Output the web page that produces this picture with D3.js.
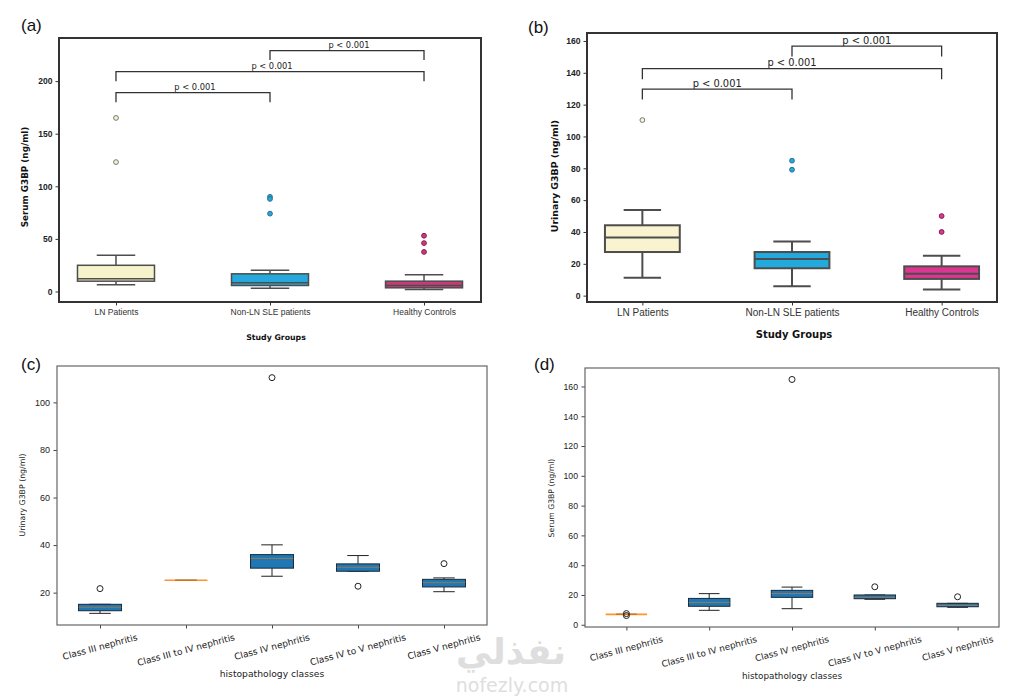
<!DOCTYPE html>
<html>
<head>
<meta charset="utf-8">
<script src="https://cdn.jsdelivr.net/npm/d3@7"></script>
<style>
  body { margin: 0; background: #fff; }
  svg { font-family: "DejaVu Sans", sans-serif; display: block; }
</style>
</head>
<body>
<div id="chart"></div>
<script>
// ---------- data ----------
const studyGroups = ['LN Patients', 'Non-LN SLE patients', 'Healthy Controls'];

// each box: [lower whisker, q1, median, q3, upper whisker]
const serumGroupBoxes = [
    [6.3, 9.8, 12.0, 24.9, 34.4],
    [3.1, 5.7, 8.2, 16.8, 20.2],
    [1.9, 3.5, 5.7, 9.8, 15.8]
];
const serumGroupOutliers = [[165, 123], [90, 88, 74], [53, 46, 37.6]];

const urinaryGroupBoxes = [
    [11.3, 27.4, 36.6, 44.2, 53.8],
    [5.9, 17.2, 23.0, 27.4, 34.0],
    [3.8, 10.5, 13.8, 18.4, 25.1]
];
const urinaryGroupOutliers = [[110.3], [84.8, 79.1], [50, 40]];

const comparisonPairs = [[0, 1], [0, 2], [1, 2]];
const serumBracketLevels = [189, 209, 229];
const urinaryBracketLevels = [129.8, 142.6, 156.8];
const pValueLabels = ['p < 0.001', 'p < 0.001', 'p < 0.001'];

const histoClasses = ['Class III nephritis', 'Class III to IV nephritis', 'Class IV nephritis',
    'Class IV to V nephritis', 'Class V nephritis'];

const urinaryClassBoxes = [
    [11.3, 12.4, 13.9, 15.1, 15.1],
    [25.2, 25.2, 25.2, 25.2, 25.2],
    [26.9, 30.3, 34.4, 36.0, 40.1],
    [29.0, 29.0, 30.7, 32.1, 35.6],
    [20.4, 22.4, 24.2, 25.6, 26.2]
];
const urinaryClassOutliers = [[21.7], [], [110.4], [22.7], [32.2]];

const serumClassBoxes = [
    [7.0, 7.0, 7.0, 7.0, 7.0],
    [9.7, 12.4, 15.0, 17.7, 20.9],
    [10.8, 18.4, 21.0, 23.1, 25.3],
    [17.1, 17.5, 18.5, 20.0, 20.0],
    [11.7, 12.1, 13.0, 14.4, 14.4]
];
const serumClassOutliers = [[6.2, 7.5], [], [164.7], [25.5], [18.8]];

const serumGroupTicks = [0, 50, 100, 150, 200];
const urinaryGroupTicks = [0, 20, 40, 60, 80, 100, 120, 140, 160];
const urinaryClassTicks = [20, 40, 60, 80, 100];
const serumClassTicks = [0, 20, 40, 60, 80, 100, 120, 140, 160];

// ---------- drawing ----------
const svg = d3.select('#chart').append('svg')
    .attr('width', 1023)
    .attr('height', 697);

function styleAxis(axisG, cfg, bold) {
    axisG.select('.domain').remove();
    axisG.selectAll('.tick line').attr('stroke', cfg.tickColor).attr('stroke-width', 1);
    axisG.selectAll('.tick text')
        .attr('fill', '#222')
        .style('font-weight', bold ? 'bold' : 'normal');
}

function drawGroupPanel(cfg) {
    let vis = {};
    vis.g = svg.append('g');
    vis.x = d3.scaleLinear().domain([-0.37, 2.37]).range([cfg.left, cfg.right]);
    vis.y = d3.scaleLinear().domain(cfg.yDomain).range([cfg.bottom, cfg.top]);
    const half = vis.x(0.25) - vis.x(0);

    // y axis
    const yAxisG = vis.g.append('g')
        .attr('transform', `translate(${cfg.left},0)`)
        .call(d3.axisLeft(vis.y).tickValues(cfg.ticks).tickSize(3.5).tickPadding(3))
        .style('font-size', cfg.yTickSize + 'px');
    styleAxis(yAxisG, cfg, true);

    // x axis
    const xAxisG = vis.g.append('g')
        .attr('transform', `translate(0,${cfg.bottom})`)
        .call(d3.axisBottom(vis.x).tickValues([0, 1, 2]).tickFormat(i => studyGroups[i])
            .tickSize(3.5).tickPadding(3.5))
        .style('font-size', cfg.xTickSize + 'px');
    styleAxis(xAxisG, cfg, false);
    xAxisG.selectAll('.tick text').attr('fill', '#333');

    // boxes
    cfg.boxes.forEach((b, i) => {
        const cx = vis.x(i);
        const [lo, q1, med, q3, hi] = b;
        const line = (x1, y1, x2, y2) => vis.g.append('line')
            .attr('x1', x1).attr('y1', y1).attr('x2', x2).attr('y2', y2)
            .attr('stroke', cfg.lineColor).attr('stroke-width', cfg.lineWidth);
        line(cx, vis.y(lo), cx, vis.y(q1));
        line(cx, vis.y(q3), cx, vis.y(hi));
        vis.g.append('rect')
            .attr('x', cx - half).attr('width', half * 2)
            .attr('y', vis.y(q3)).attr('height', vis.y(q1) - vis.y(q3))
            .attr('fill', cfg.fills[i])
            .attr('stroke', cfg.lineColor).attr('stroke-width', cfg.lineWidth);
        line(cx - half, vis.y(med), cx + half, vis.y(med));
        line(cx - half / 2, vis.y(lo), cx + half / 2, vis.y(lo));
        line(cx - half / 2, vis.y(hi), cx + half / 2, vis.y(hi));

        vis.g.selectAll(null)
            .data(cfg.outliers[i])
            .join('circle')
            .attr('cx', cx)
            .attr('cy', d => vis.y(d))
            .attr('r', 2.4)
            .attr('fill', cfg.fills[i])
            .attr('stroke', cfg.flierStroke[i])
            .attr('stroke-width', 1);
    });

    // significance brackets
    comparisonPairs.forEach((p, k) => {
        const lvl = cfg.brackets[k];
        const x1 = vis.x(p[0]), x2 = vis.x(p[1]);
        vis.g.append('path')
            .attr('d', `M${x1},${vis.y(lvl) + cfg.legPx}V${vis.y(lvl)}H${x2}V${vis.y(lvl) + cfg.legPx}`)
            .attr('fill', 'none')
            .attr('stroke', '#333')
            .attr('stroke-width', 1.3);
        vis.g.append('text')
            .attr('x', (x1 + x2) / 2 + cfg.pShift)
            .attr('y', vis.y(lvl) - 2.5)
            .attr('text-anchor', 'middle')
            .style('font-size', cfg.pSize + 'px')
            .attr('fill', '#222')
            .text(pValueLabels[k]);
    });

    // frame
    vis.g.append('rect')
        .attr('x', cfg.left).attr('y', cfg.top)
        .attr('width', cfg.right - cfg.left).attr('height', cfg.bottom - cfg.top)
        .attr('fill', 'none').attr('stroke', '#333').attr('stroke-width', 2);

    // axis titles
    vis.g.append('text')
        .attr('transform', `translate(${cfg.yLabelX},${cfg.yLabelY}) rotate(-90)`)
        .attr('text-anchor', 'middle')
        .attr('dominant-baseline', 'central')
        .style('font-size', cfg.yLabelSize + 'px')
        .style('font-weight', 'bold')
        .attr('fill', '#111')
        .text(cfg.yLabel);
    vis.g.append('text')
        .attr('x', cfg.xLabelX).attr('y', cfg.xLabelY)
        .attr('text-anchor', 'middle')
        .style('font-size', cfg.xLabelSize + 'px')
        .style('font-weight', 'bold')
        .attr('fill', '#111')
        .text('Study Groups');
}

function drawClassPanel(cfg) {
    let vis = {};
    vis.g = svg.append('g');
    vis.x = d3.scaleLinear().domain([-0.5, 4.5]).range([cfg.left, cfg.right]);
    vis.y = d3.scaleLinear().domain(cfg.yDomain).range([cfg.bottom, cfg.top]);
    const half = vis.x(0.25) - vis.x(0);

    const yAxisG = vis.g.append('g')
        .attr('transform', `translate(${cfg.left},0)`)
        .call(d3.axisLeft(vis.y).tickValues(cfg.ticks).tickSize(3.5).tickPadding(3.5))
        .style('font-size', cfg.yTickSize + 'px');
    styleAxis(yAxisG, cfg, false);

    const xAxisG = vis.g.append('g')
        .attr('transform', `translate(0,${cfg.bottom})`)
        .call(d3.axisBottom(vis.x).tickValues([0, 1, 2, 3, 4]).tickFormat('').tickSize(3.5));
    styleAxis(xAxisG, cfg, false);

    // rotated tick labels (matplotlib rotation=15, centred under tick)
    const ang = 15 * Math.PI / 180;
    histoClasses.forEach((name, i) => {
        const t = vis.g.append('text')
            .attr('text-anchor', 'middle')
            .attr('dominant-baseline', 'central')
            .style('font-size', cfg.xTickSize + 'px')
            .attr('fill', '#222')
            .text(name);
        const w = t.node().getComputedTextLength();
        const h = cfg.xTickSize * 1.17;
        const cx = vis.x(i);
        const cy = cfg.bottom + 7 + (w * Math.sin(ang) + h * Math.cos(ang)) / 2;
        t.attr('transform', `translate(${cx},${cy}) rotate(-15)`);
    });

    cfg.boxes.forEach((b, i) => {
        const cx = vis.x(i);
        const [lo, q1, med, q3, hi] = b;
        const line = (x1, y1, x2, y2) => vis.g.append('line')
            .attr('x1', x1).attr('y1', y1).attr('x2', x2).attr('y2', y2)
            .attr('stroke', '#222').attr('stroke-width', 1);
        line(cx, vis.y(lo), cx, vis.y(q1));
        line(cx, vis.y(q3), cx, vis.y(hi));
        line(cx - half / 2, vis.y(lo), cx + half / 2, vis.y(lo));
        line(cx - half / 2, vis.y(hi), cx + half / 2, vis.y(hi));
        vis.g.append('rect')
            .attr('x', cx - half).attr('width', half * 2)
            .attr('y', vis.y(q3)).attr('height', vis.y(q1) - vis.y(q3))
            .attr('fill', '#1f77b4')
            .attr('stroke', '#1b2a38').attr('stroke-width', 1);
        const flat = q1 === q3;
        vis.g.append('line')
            .attr('x1', cx - half).attr('x2', cx + half)
            .attr('y1', vis.y(med)).attr('y2', vis.y(med))
            .attr('stroke', '#ff7f0e')
            .attr('stroke-width', flat ? 1.6 : 1)
            .attr('opacity', flat ? 0.85 : 0.5);

        vis.g.selectAll(null)
            .data(cfg.outliers[i])
            .join('circle')
            .attr('cx', cx)
            .attr('cy', d => vis.y(d))
            .attr('r', 3)
            .attr('fill', 'none')
            .attr('stroke', '#222')
            .attr('stroke-width', 1);
    });

    vis.g.append('rect')
        .attr('x', cfg.left).attr('y', cfg.top)
        .attr('width', cfg.right - cfg.left).attr('height', cfg.bottom - cfg.top)
        .attr('fill', 'none').attr('stroke', '#666').attr('stroke-width', 1.2);

    vis.g.append('text')
        .attr('transform', `translate(${cfg.yLabelX},${cfg.yLabelY}) rotate(-90)`)
        .attr('text-anchor', 'middle')
        .attr('dominant-baseline', 'central')
        .style('font-size', cfg.yLabelSize + 'px')
        .attr('fill', '#222')
        .text(cfg.yLabel);
    vis.g.append('text')
        .attr('x', cfg.xLabelX).attr('y', cfg.xLabelY)
        .attr('text-anchor', 'middle')
        .style('font-size', cfg.xLabelSize + 'px')
        .attr('fill', '#222')
        .text('histopathology classes');
}

// watermark (drawn first so it sits behind the panels)
const wm = svg.append('g').attr('fill', '#dedede');
wm.append('text').attr('x', 511).attr('y', 664).attr('text-anchor', 'middle')
    .style('font-size', '36px').style('font-weight', 'bold').text('نفذلي');
wm.append('text').attr('x', 512).attr('y', 692).attr('text-anchor', 'middle')
    .style('font-size', '19px').text('nofezly.com');

drawGroupPanel({
    left: 59, right: 481, top: 38, bottom: 302,
    yDomain: [-10, 241], ticks: serumGroupTicks,
    boxes: serumGroupBoxes, outliers: serumGroupOutliers,
    fills: ['#f6f3cc', '#26a8da', '#c73b7a'],
    flierStroke: ['#777', '#2a6f92', '#8a1e4f'],
    lineColor: '#4d4d4d', lineWidth: 1.5, tickColor: '#333',
    brackets: serumBracketLevels, legPx: 9.5, pShift: 2, pSize: 8.3,
    yTickSize: 8.5, xTickSize: 8.5,
    yLabel: 'Serum G3BP (ng/ml)', yLabelX: 25, yLabelY: 177, yLabelSize: 8.8,
    xLabelX: 276, xLabelY: 340, xLabelSize: 7.8
});

drawGroupPanel({
    left: 587, right: 997, top: 33, bottom: 302,
    yDomain: [-4, 165], ticks: urinaryGroupTicks,
    boxes: urinaryGroupBoxes, outliers: urinaryGroupOutliers,
    fills: ['#f9f3cf', '#22a9de', '#dc3690'],
    flierStroke: ['#777', '#2a6f92', '#7d1f4a'],
    lineColor: '#4d4d4d', lineWidth: 2, tickColor: '#333',
    brackets: urinaryBracketLevels, legPx: 10.5, pShift: 0, pSize: 9.9,
    yTickSize: 8.6, xTickSize: 10,
    yLabel: 'Urinary G3BP (ng/ml)', yLabelX: 554, yLabelY: 176, yLabelSize: 9.4,
    xLabelX: 794, xLabelY: 338, xLabelSize: 10
});

drawClassPanel({
    left: 57, right: 487, top: 366, bottom: 625,
    yDomain: [6.4, 115.3], ticks: urinaryClassTicks,
    boxes: urinaryClassBoxes, outliers: urinaryClassOutliers,
    tickColor: '#444', yTickSize: 9, xTickSize: 9,
    yLabel: 'Urinary G3BP (ng/ml)', yLabelX: 22, yLabelY: 495, yLabelSize: 7.8,
    xLabelX: 272, xLabelY: 677, xLabelSize: 9.2
});

drawClassPanel({
    left: 585, right: 999, top: 368, bottom: 627,
    yDomain: [-1.5, 172.4], ticks: serumClassTicks,
    boxes: serumClassBoxes, outliers: serumClassOutliers,
    tickColor: '#444', yTickSize: 8.7, xTickSize: 8.8,
    yLabel: 'Serum G3BP (ng/ml)', yLabelX: 551, yLabelY: 498, yLabelSize: 7.7,
    xLabelX: 792, xLabelY: 679, xLabelSize: 8.8
});

// panel letters
const letters = [['(a)', 21, 31], ['(b)', 528, 33], ['(c)', 21, 370], ['(d)', 534, 370]];
svg.selectAll('.panel-letter')
    .data(letters)
    .join('text')
    .attr('class', 'panel-letter')
    .attr('x', d => d[1])
    .attr('y', d => d[2])
    .style('font-family', '"Liberation Sans", Arial, sans-serif')
    .style('font-size', '17px')
    .attr('fill', '#111')
    .text(d => d[0]);
</script>
</body>
</html>
